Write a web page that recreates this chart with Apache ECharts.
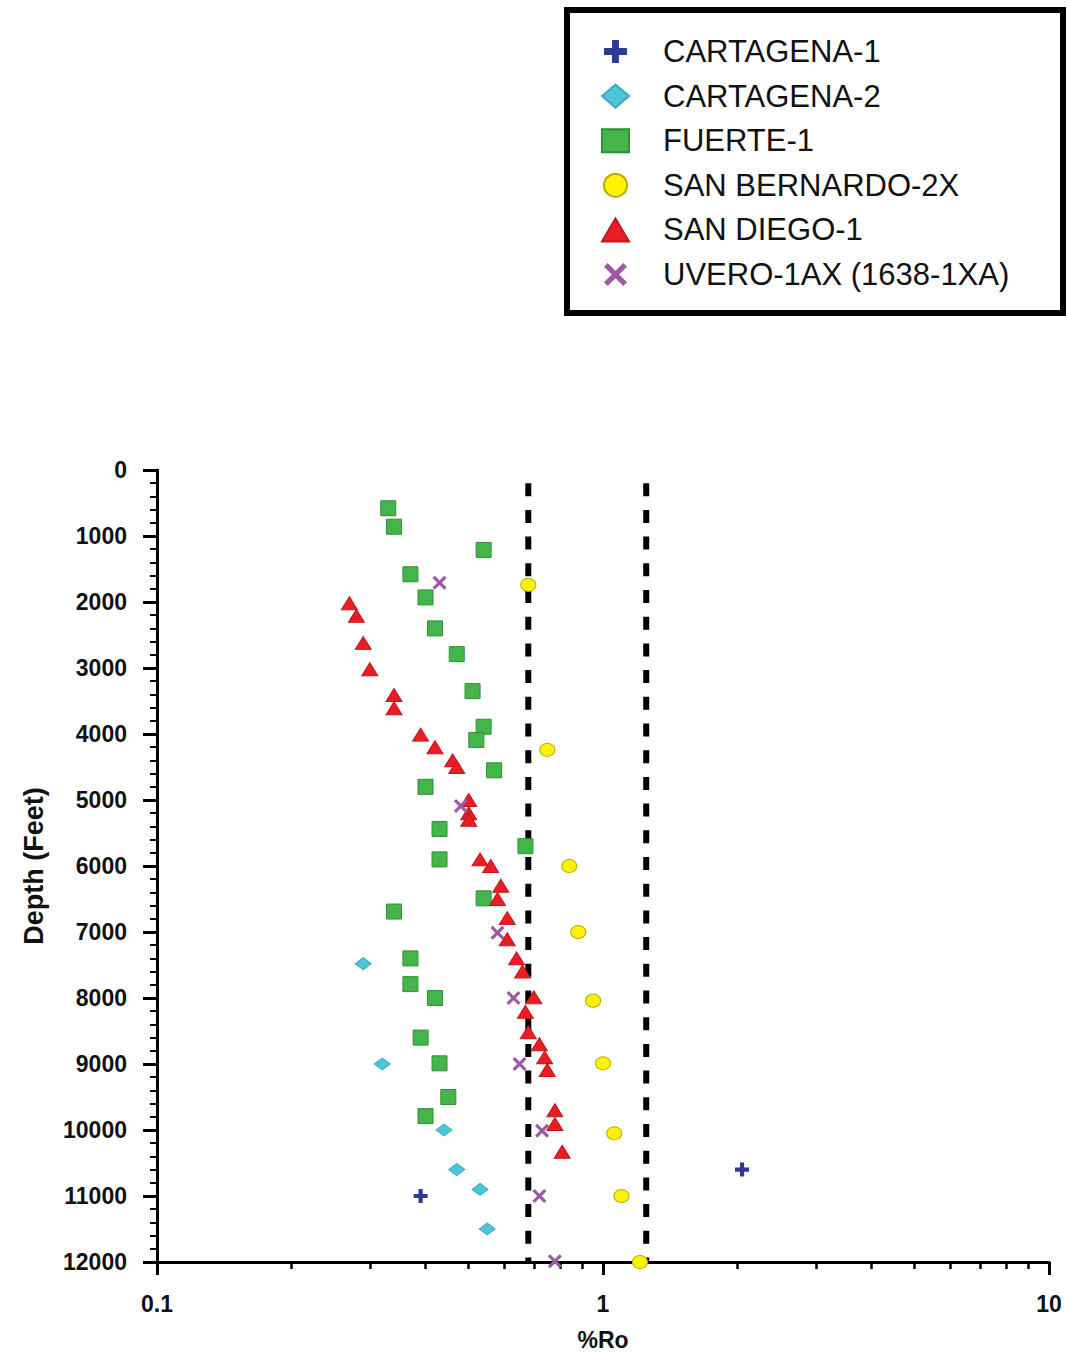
<!DOCTYPE html>
<html>
<head>
<meta charset="utf-8">
<script src="https://cdn.jsdelivr.net/npm/echarts@6/dist/echarts.min.js"></script>
<style>
html,body{margin:0;padding:0;background:#fff;}
#chart{width:1067px;height:1357px;}
</style>
</head>
<body>
<div id="chart"></div>
<script>
// ---- Data (x = %Ro, y = depth in feet) ----
const seriesNames = ['CARTAGENA-1','CARTAGENA-2','FUERTE-1','SAN BERNARDO-2X','SAN DIEGO-1','UVERO-1AX (1638-1XA)'];
const cartagena1 = [[0.39,11000],[2.05,10600]];
const cartagena2 = [[0.29,7480],[0.32,9000],[0.44,10000],[0.47,10600],[0.53,10900],[0.55,11500]];
const fuerte1 = [[0.33,580],[0.34,860],[0.54,1210],[0.37,1580],[0.40,1930],[0.42,2400],[0.47,2790],[0.51,3350],[0.54,3890],[0.52,4090],[0.57,4550],[0.40,4800],[0.43,5440],[0.67,5700],[0.43,5900],[0.54,6490],[0.34,6690],[0.37,7400],[0.37,7790],[0.42,8000],[0.39,8600],[0.43,8990],[0.45,9500],[0.40,9790]];
const sanBernardo2x = [[0.68,1740],[0.75,4240],[0.84,6000],[0.88,7000],[0.95,8040],[1.00,8990],[1.06,10050],[1.10,11000],[1.21,12000]];
const sanDiego1 = [[0.27,2020],[0.28,2210],[0.29,2620],[0.30,3020],[0.34,3410],[0.34,3610],[0.39,4010],[0.42,4200],[0.46,4400],[0.47,4500],[0.50,5000],[0.50,5200],[0.50,5300],[0.53,5900],[0.56,6000],[0.59,6300],[0.58,6500],[0.61,6790],[0.61,7110],[0.64,7400],[0.66,7600],[0.70,7990],[0.67,8210],[0.68,8520],[0.72,8700],[0.74,8900],[0.75,9090],[0.78,9700],[0.78,9910],[0.81,10330]];
const uvero1ax = [[0.43,1710],[0.48,5090],[0.58,7010],[0.63,8000],[0.65,9000],[0.73,10010],[0.72,11000],[0.78,11990]];
const thresholdsRo = [0.68, 1.25];
const thresholdDepthRange = [200, 12000];
const xMajorTicks = [0.1, 1, 10];
const xMinorTicks = [0.2,0.3,0.4,0.5,0.6,0.7,0.8,0.9,2,3,4,5,6,7,8,9];
const depthTicks = [0,1000,2000,3000,4000,5000,6000,7000,8000,9000,10000,11000,12000];

const FONT = '"Liberation Sans", Arial, Helvetica, sans-serif';
const plusPath = 'path://M3.5,0h3v3.5h3.5v3h-3.5v3.5h-3v-3.5h-3.5v-3h3.5z';
const xPath = 'path://M1.6,0L5,3.4L8.4,0L10,1.6L6.6,5L10,8.4L8.4,10L5,6.6L1.6,10L0,8.4L3.4,5L0,1.6z';

const styles = [
  {symbol: plusPath, size: 14, color: '#2e3b92', border: '#2e3b92'},
  {symbol: 'diamond', size: [16,12], color: '#4fc3da', border: '#3aaac2'},
  {symbol: 'rect', size: 15, color: '#44b649', border: '#2f8f3a'},
  {symbol: 'circle', size: [15,13], color: '#fff200', border: '#b8ab00'},
  {symbol: 'triangle', size: [16,13], color: '#ec1c24', border: '#c0161d'},
  {symbol: xPath, size: 14, color: '#9d58a6', border: '#9d58a6'}
];
const datasets = [cartagena1, cartagena2, fuerte1, sanBernardo2x, sanDiego1, uvero1ax];

const series = [];
thresholdsRo.forEach((v, i) => {
  series.push({
    name: 'threshold' + i, type: 'line', xAxisIndex: 0, yAxisIndex: 0,
    data: [[v, thresholdDepthRange[0]], [v, thresholdDepthRange[1]]],
    symbol: 'none', silent: true, z: 1,
    lineStyle: {color: '#000', width: 6, type: [13, 13.7]}
  });
});
datasets.forEach((d, i) => {
  const s = styles[i];
  series.push({
    name: seriesNames[i], type: 'scatter', xAxisIndex: 0, yAxisIndex: 0,
    data: d, symbol: s.symbol, symbolSize: s.size, clip: false, z: 3,
    itemStyle: {color: s.color, borderColor: s.border, borderWidth: (i===0||i===5)?0:1, opacity: 1}
  });
});

const gridRect = {left: 157, right: 18, top: 470, bottom: 95, containLabel: false};
const chart = echarts.init(document.getElementById('chart'), null, {renderer: 'svg'});
chart.setOption({
  backgroundColor: '#fff',
  animation: false,
  grid: [Object.assign({}, gridRect), Object.assign({}, gridRect)],
  legend: {
    orient: 'vertical', left: 601, top: 36, padding: 0,
    itemWidth: 27, itemHeight: 23, itemGap: 13.6,
    symbolKeepAspect: true, selectedMode: false,
    data: seriesNames.map((n, i) => ({name: n, icon: styles[i].symbol})),
    textStyle: {fontFamily: FONT, fontSize: 31, color: '#111', padding: [0,0,0,29]}
  },
  graphic: [{
    type: 'rect', left: 564, top: 7, z: 0,
    shape: {width: 496, height: 303},
    style: {fill: 'none', stroke: '#000', lineWidth: 6}
  }],
  xAxis: [{
    gridIndex: 0,
    type: 'log', logBase: 10, min: xMajorTicks[0], max: xMajorTicks[2], position: 'bottom',
    name: '%Ro', nameLocation: 'middle', nameGap: 66,
    nameTextStyle: {fontFamily: FONT, fontSize: 23, fontWeight: 'bold', color: '#111'},
    axisLine: {show: true, onZero: false, lineStyle: {color: '#000', width: 3}},
    axisTick: {show: true, inside: false, length: 13, lineStyle: {color: '#000', width: 3}},
    minorTick: {show: false},
    splitLine: {show: false},
    axisLabel: {fontFamily: FONT, fontSize: 23, fontWeight: 'bold', color: '#111', margin: 30,
      formatter: v => String(+v.toPrecision(3))}
  }, {
    // minor ticks of the log axis, drawn by an identical overlay grid
    gridIndex: 1,
    type: 'log', logBase: 10, min: xMajorTicks[0], max: xMajorTicks[2], position: 'bottom',
    axisLine: {show: false, onZero: false},
    axisTick: {show: true, inside: false, length: 7, customValues: xMinorTicks, lineStyle: {color: '#000', width: 2.5}},
    axisLabel: {show: false},
    splitLine: {show: false}
  }],
  yAxis: [{
    gridIndex: 0,
    type: 'value', inverse: true, min: depthTicks[0], max: depthTicks[depthTicks.length-1], interval: 1000,
    name: 'Depth (Feet)', nameLocation: 'middle', nameGap: 110, nameRotate: 90,
    nameTextStyle: {fontFamily: FONT, fontSize: 27, fontWeight: 'bold', color: '#111'},
    axisLine: {show: true, onZero: false, lineStyle: {color: '#000', width: 3}},
    axisTick: {show: true, inside: false, length: 14, lineStyle: {color: '#000', width: 3}},
    minorTick: {show: true, splitNumber: 5, length: 7, lineStyle: {color: '#000', width: 2}},
    splitLine: {show: false},
    axisLabel: {fontFamily: FONT, fontSize: 23, fontWeight: 'bold', color: '#111', margin: 30,
      formatter: v => String(v)}
  }, {
    gridIndex: 1, type: 'value', inverse: true, min: depthTicks[0], max: depthTicks[depthTicks.length-1],
    show: false
  }],
  series: series
});
</script>
</body>
</html>
